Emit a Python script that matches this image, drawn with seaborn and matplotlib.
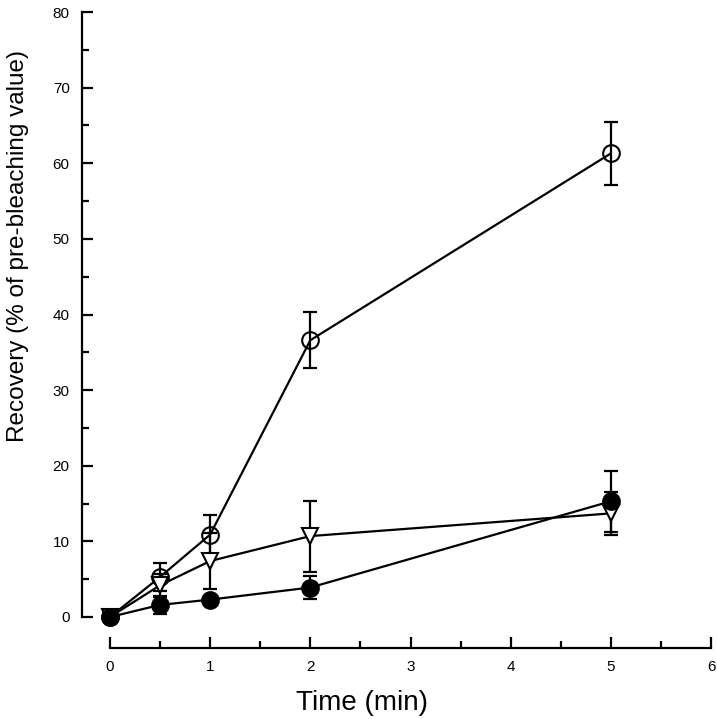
import numpy as np
import pandas as pd
import matplotlib
matplotlib.use("Agg")
import matplotlib.pyplot as plt
import seaborn as sns
from matplotlib.ticker import MultipleLocator

sns.set_theme(style="ticks")
plt.rcParams['font.family'] = ['Liberation Sans', 'DejaVu Sans']

time = [0, 0.5, 1, 2, 5]
open_circle = [0.0, 5.3, 10.9, 36.6, 61.3]
open_circle_err = [0.0, 1.9, 2.6, 3.7, 4.2]
triangle = [0.0, 4.2, 7.4, 10.7, 13.7]
triangle_err = [0.0, 1.5, 3.7, 4.7, 2.8]
filled_circle = [0.0, 1.6, 2.3, 3.9, 15.3]
filled_circle_err = [0.0, 1.2, 0.0, 1.5, 4.0]

series = ["open", "triangle", "filled"]
df = pd.concat([
    pd.DataFrame({"time": time, "value": open_circle, "err": open_circle_err, "series": "open"}),
    pd.DataFrame({"time": time, "value": triangle, "err": triangle_err, "series": "triangle"}),
    pd.DataFrame({"time": time, "value": filled_circle, "err": filled_circle_err, "series": "filled"}),
])

fig = plt.figure(figsize=(7.17, 7.19), dpi=100)
ax = fig.add_axes([110/717, 1 - 617/719, 601/717, 605/719])

styles = {
    "open": dict(marker="o", mfc="none", ms=12),
    "triangle": dict(marker="v", mfc="white", ms=12),
    "filled": dict(marker="o", mfc="black", ms=12),
}

for s in series:
    d = df[df.series == s]
    ax.errorbar(d["time"], d["value"], yerr=d["err"], fmt="none", ecolor="black",
                elinewidth=1.6, capsize=5, capthick=1.6, clip_on=False, zorder=2)

sns.lineplot(data=df, x="time", y="value", hue="series", hue_order=series,
             palette=["black"] * 3, legend=False, ax=ax, lw=1.6, sort=False,
             estimator=None)
for line, s in zip(ax.lines[-3:], series):
    st = styles[s]
    line.set_marker(st["marker"])
    line.set_markerfacecolor(st["mfc"])
    line.set_markeredgecolor("black")
    line.set_markeredgewidth(1.5)
    line.set_markersize(st["ms"])
    line.set_clip_on(False)
    line.set_zorder(3)

ax.set_xlim(0, 6)
ax.set_ylim(0, 80)
ax.xaxis.set_major_locator(MultipleLocator(1))
ax.xaxis.set_minor_locator(MultipleLocator(0.5))
ax.yaxis.set_major_locator(MultipleLocator(10))
ax.yaxis.set_minor_locator(MultipleLocator(5))
ax.tick_params(which="both", direction="in", width=1.6, colors="black", labelsize=11)
ax.tick_params(which="major", length=8, pad=9)
ax.tick_params(which="minor", length=5)
sns.despine(ax=ax, offset={"left": 20, "bottom": 22})
for sp in ["left", "bottom"]:
    ax.spines[sp].set_linewidth(1.6)
    ax.spines[sp].set_color("black")

ax.set_xlabel("Time (min)", fontsize=20, color="black")
ax.set_ylabel("Recovery (% of pre-bleaching value)", fontsize=17.5, color="black")
ax.xaxis.set_label_coords(0.42, -0.12)
ax.yaxis.set_label_coords(-0.135, 0.613)
ax.xaxis.label.set_va("top")

fig.savefig("out.png", dpi=100)
